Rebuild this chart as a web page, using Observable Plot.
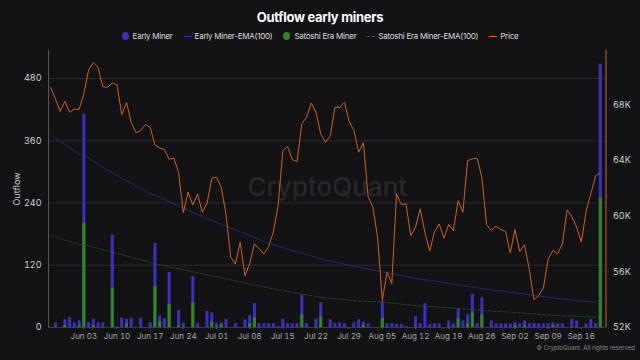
<!DOCTYPE html>
<html><head><meta charset="utf-8">
<script src="https://cdn.jsdelivr.net/npm/d3@7"></script>
<script src="https://cdn.jsdelivr.net/npm/@observablehq/plot@0.6"></script>
<style>
html,body{margin:0;padding:0;background:#121215;}
body{width:640px;height:360px;overflow:hidden;position:relative;font-family:Inter,"Noto Sans",sans-serif;}
#title{position:absolute;top:9px;left:0;width:640px;text-align:center;color:#fff;font-weight:700;font-size:13px;letter-spacing:-0.3px;}
#legend{position:absolute;top:31px;left:0;width:640px;display:flex;justify-content:center;align-items:center;gap:11px;color:#ddd;font-size:8px;letter-spacing:-0.25px;}
#legend .it{display:flex;align-items:center;}
#legend .dot{display:inline-block;width:7px;height:8px;border-radius:50%;margin-right:4px;}
#legend .ln{display:inline-block;width:8px;height:0;margin-right:3px;}
#chart{position:absolute;top:45px;left:0;}
#foot{position:absolute;right:5px;top:344px;color:#8a8a8a;font-size:6px;}
</style></head>
<body>
<div id="title">Outflow early miners</div>
<div id="legend">
  <span class="it"><i class="dot" style="background:#3d2ec6"></i>Early Miner</span>
  <span class="it"><i class="ln" style="border-top:1px solid #3a35a8"></i>Early Miner-EMA(100)</span>
  <span class="it"><i class="dot" style="background:#2f8a1d"></i>Satoshi Era Miner</span>
  <span class="it"><i class="ln" style="border-top:1px dashed #2d7020"></i>Satoshi Era Miner-EMA(100)</span>
  <span class="it"><i class="ln" style="border-top:1.5px solid #d8651a"></i>Price</span>
</div>
<div id="chart"></div>
<div id="foot">© CryptoQuant. All rights reserved</div>
<script>
// ---- data (daily, starting 2024-05-27) ----
const startDate = "2024-05-27";
const earlyMiner = [
  0,8.5,0,15,19,
  9,13,411,9.7,16,9,9,0,178,1,18,15.5,18,0,18,0,9,162,22.5,17,106,0,33,8,0,98,7.5,0,31,28,
  7.5,9,16,0,7.5,0,15,23,46,7.5,7.5,7,7.5,1.5,16,7.5,7.5,7.5,63,7.5,0,16,48,0,15,7.5,9,7.5,0,9,15,
  10,7,0,0,50,7,7.5,6,6,1.5,0,20.6,7.5,46,6,7,7,0,12.5,7,36,12.5,24,64,7.5,57,0,12.5,7,7,7,
  7,9.5,7,12.5,7.5,7.5,7,7,7.5,9,7,7,0,16,12.5,0,7,16,7.5,508
];
const satoshiEra = [
  0,0,0,4,0,
  0,3,201,0,3,0,0,0,76,0,0,7,0,0,0,0,0,79,11,0,44,0,3,0,0,48,0,0,0,10,
  0,5,0,0,0,0,0,7,19,0,0,0,0,0,0,0,0,0,24.5,0,0,0,20,0,0,0,0,0,0,0,0,
  4,0,0,0,18,0,0,0,0,0,0,0,0,0,0,0,0,0,0,0,17,0,7,28,0,24,0,0,0,0,0,
  0,3,0,3,0,0,0,0,0,3,0,0,0,0,0,0,0,0,0,250
];
const price = [
  69250,68420,67530,68250,67460,
  67680,67680,68780,70500,71030,70690,69300,69250,69570,69450,67290,68180,66740,66000,66150,66580,66380,65120,64900,64780,64090,64180,63130,60240,61720,60810,61600,60280,60930,62720,
  62790,62070,60160,57050,56570,58130,55730,56570,58010,57650,57290,57820,58850,60760,64710,65000,64060,63920,66630,67100,68130,67460,65910,65310,65740,67820,67820,68180,66790,66150,64590,
  65280,61400,60640,58490,53940,56000,55140,61600,60830,60880,58600,59200,60520,58800,57500,58850,59450,58410,59400,58970,61120,60280,63990,64110,64180,62790,59400,58970,59280,59040,58890,
  57340,59040,57460,57940,56220,54000,54300,54850,56930,57530,57290,58010,60450,59970,59200,58130,60330,61600,62890,63110
];
const emaEarlyDates = ["2024-05-27","2024-06-02","2024-06-03","2024-06-08","2024-06-17","2024-06-18","2024-06-25","2024-07-04","2024-07-06","2024-07-12","2024-07-24","2024-08-05","2024-08-12","2024-08-15","2024-08-19","2024-08-26","2024-09-02","2024-09-09","2024-09-18","2024-09-19","2024-09-20"];
const emaEarlyValues = [372,334,333,303,258,255,226,191,185,162,130,107,94.5,91,85,75,67,58,49,48.5,57];
const emaSatoshiDates = ["2024-05-27","2024-06-02","2024-06-03","2024-06-18","2024-07-06","2024-07-11","2024-07-18","2024-07-24","2024-07-31","2024-08-05","2024-08-11","2024-08-19","2024-08-26","2024-09-02","2024-09-09","2024-09-18","2024-09-19","2024-09-20"];
const emaSatoshiValues = [178,160,160,123,88,78,66,57,51,49,43,38,33,29,24,20.5,20,24];
const outflowTicks = [0,120,240,360,480];
const priceTicks = [52000,56000,60000,64000,68000];
const dateTicks = ["2024-06-03","2024-06-10","2024-06-17","2024-06-24","2024-07-01","2024-07-08","2024-07-15","2024-07-22","2024-07-29","2024-08-05","2024-08-12","2024-08-19","2024-08-26","2024-09-02","2024-09-09","2024-09-16"];

// ---- build ----
const parse = d3.utcParse("%Y-%m-%d");
const d0 = parse(startDate);
const days = earlyMiner.map((v,i)=>({date:d3.utcDay.offset(d0,i), early:v, satoshi:satoshiEra[i], price:price[i]}));
const emaE = emaEarlyDates.map((d,i)=>({date:parse(d), v:emaEarlyValues[i]}));
const emaS = emaSatoshiDates.map((d,i)=>({date:parse(d), v:emaSatoshiValues[i]}));
const xTicks = dateTicks.map(parse);
const xDomain = [new Date(Date.UTC(2024,4,26,13)), new Date(Date.UTC(2024,8,21,5))];
const yMax = 534;
const pScale = d3.scaleLinear().domain([52000, 71900]).range([0, yMax]);

const chart = Plot.plot({
  width: 640, height: 315,
  marginTop: 5, marginBottom: 33, marginLeft: 48, marginRight: 34.5,
  style: {background: "transparent", color: "#cfcfcf", fontFamily: "Inter, 'Noto Sans', sans-serif", fontSize: "9px"},
  x: {type: "utc", domain: xDomain},
  y: {domain: [0, yMax]},
  marks: [
    Plot.gridY(outflowTicks.filter(d=>d>0), {stroke: "#2a2a2f", strokeOpacity: 1}),
    Plot.text(["CryptoQuant"], {frameAnchor: "middle", dy: -1, fontSize: 26, fill: "#27272d", fontWeight: 500}),
    Plot.ruleY([0], {stroke: "#3c3c42"}),
    Plot.ruleX(days.filter(d=>d.early>0), {x: "date", y1: 0, y2: "early", stroke: "#3d2ec6", strokeWidth: 3}),
    Plot.ruleX(days.filter(d=>d.satoshi>0), {x: "date", y1: 0, y2: "satoshi", stroke: "#2f8a1d", strokeWidth: 3}),
    Plot.line(emaE, {x: "date", y: "v", stroke: "#2b287c", strokeWidth: 0.9}),
    Plot.line(emaS, {x: "date", y: "v", stroke: "#1f5317", strokeWidth: 0.9, strokeDasharray: "3,2"}),
    Plot.line(days, {x: "date", y: d=>pScale(d.price), stroke: "#d2611a", strokeWidth: 1}),
    Plot.ruleX([xDomain[0]], {stroke: "#55555a"}),
    Plot.ruleX([xDomain[1]], {stroke: "#8f4a1c", strokeWidth: 1.5}),
    Plot.axisY(outflowTicks, {anchor: "left", tickSize: 0, tickPadding: 7, fill: "#d0d0d0", fontSize: 9,
      label: "Outflow", labelAnchor: "center", labelOffset: 35, labelArrow: false}),
    Plot.axisY(priceTicks.map(p=>pScale(p)), {anchor: "right", tickSize: 0, tickPadding: 7, fill: "#d0d0d0", fontSize: 9,
      tickFormat: v => Math.round(pScale.invert(v)/1000) + "K", label: null}),
    Plot.axisX(xTicks, {tickFormat: d3.utcFormat("%b %d"), tickSize: 2, stroke: "#55555a", tickPadding: 4, fill: "#a8a8a8", fontSize: 8, label: null})
  ]
});
document.getElementById("chart").appendChild(chart);
</script>
</body></html>
